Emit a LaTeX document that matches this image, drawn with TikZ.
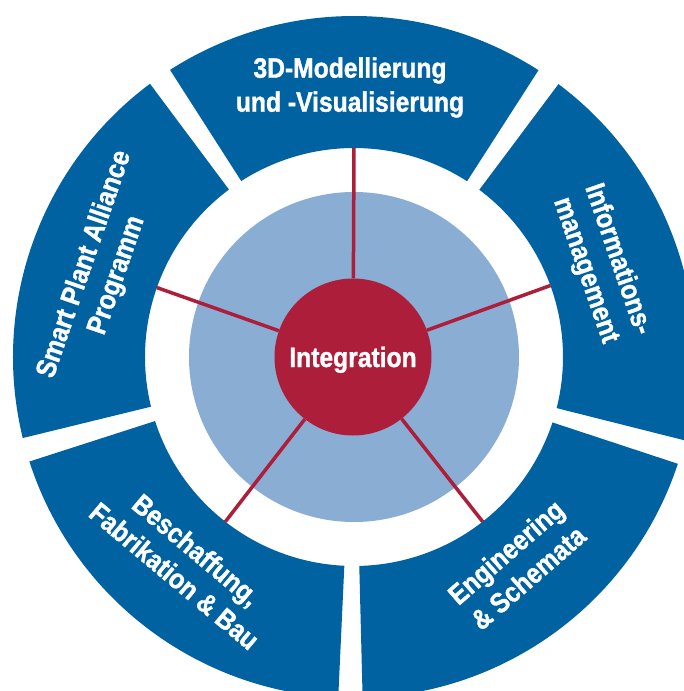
\documentclass[tikz,border=0pt]{standalone}
\usepackage{fontspec}
\newfontfamily\labelfont[FakeStretch=0.88, FakeBold=1.2]{Liberation Sans}
\definecolor{ringblue}{HTML}{0062A0}
\definecolor{lightblue}{HTML}{8AADD4}
\definecolor{intred}{HTML}{AD1E3A}
\newcommand\ringseg[2]{\fill[segment] (#1:209) arc[start angle=#1, end angle=#2, radius=209] -- (#2:341) arc[start angle=#2, end angle=#1, radius=341] -- cycle;}
\begin{document}
\begin{tikzpicture}[x=1pt,y=1pt,
  segment/.style={fill=ringblue},
  seglabel/.style={text=white, font=\labelfont\bfseries\fontsize{28}{34}\selectfont, align=center, inner sep=0pt},
  spoke/.style={draw=intred, line width=3.5pt}]
\useasboundingbox (-354,-334) rectangle (330,357);
\fill[white] (-354,-334) rectangle (330,357);
\clip (-354,-334) rectangle (330,357);
% outer ring segments
\ringseg{57.25}{122.65}
\ringseg{126.75}{193.75}
\ringseg{197.85}{267.35}
\ringseg{271.45}{341.75}
\ringseg{345.85}{413.15}
% light blue disc
\node[circle, fill=lightblue, minimum size=330pt, inner sep=0pt] (hub) at (0,0) {};
% spoke ends on the ring
\coordinate (e1) at (90:209);
\coordinate (e2) at (20:209);
\coordinate (e3) at (160.6:209);
\coordinate (e4) at (-52:209);
\coordinate (e5) at (-128:209);
% centre
\node[circle, fill=intred, minimum size=157pt, inner sep=0pt, text=white,
  font=\labelfont\bfseries\fontsize{28}{34}\selectfont, text height=20pt, text depth=0pt] (integ) at (-1,0) {Integration};
\foreach \i in {1,...,5} \draw[spoke] (integ) -- (e\i);
% labels
\node[seglabel] (lab3d) at (-4,269.5) {3D-Modellierung\\und -Visualisierung};
\node[seglabel, rotate=-71] (labinfo) at (20.4:264) {Informations-\\management};
\node[seglabel, rotate=71] (labspa) at (161:267.5) {Smart Plant Alliance\\Programm};
\node[seglabel, rotate=-40] (labbes) at (-129.3:266) {Beschaffung,\\Fabrikation \& Bau};
\node[seglabel, rotate=41] (labeng) at (-51.9:264) {Engineering\\\& Schemata};
\end{tikzpicture}
\end{document}
